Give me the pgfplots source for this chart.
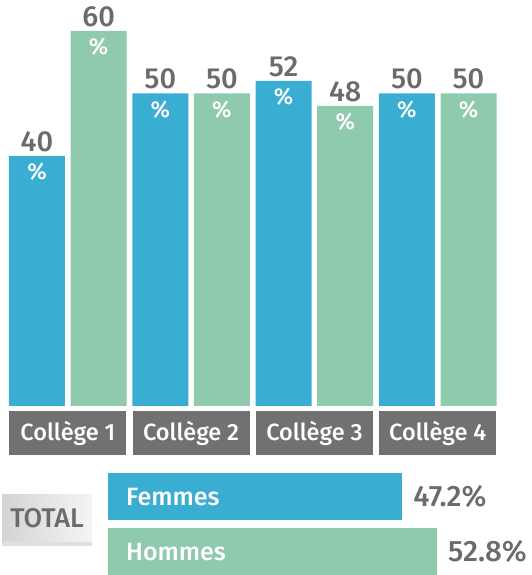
\documentclass[border=0pt]{standalone}
\usepackage{fontspec}
\setmainfont{Fira Sans}
\IfFontExistsTF{Fira Sans Medium}{\newfontfamily\med{Fira Sans Medium}}{\newcommand\med{\bfseries}}
\usepackage{pgfplots}
\pgfplotsset{compat=1.18}
\usetikzlibrary{shadows}
\definecolor{cblue}{HTML}{3AADD3}
\definecolor{cgreen}{HTML}{8FCAAC}
\definecolor{tgray}{HTML}{6B6B6B}
\definecolor{bgray}{HTML}{717173}
\begin{document}
\begin{tikzpicture}[x=1pt,y=1pt]
\useasboundingbox (0,0) rectangle (531,575);
% TOTAL badge
\node[left color=black!17, right color=black!4, minimum width=90pt, minimum height=47pt,
      inner sep=0pt, text=tgray, font=\med\fontsize{27}{29}\selectfont,
      drop shadow={shadow xshift=0pt, shadow yshift=-4pt, opacity=0.25}] at (47,56.5) {TOTAL};
\begin{axis}[
  at={(0pt,169pt)}, anchor=south west, scale only axis,
  width=505.5pt, height=406.25pt,
  xmin=-0.6, xmax=7.6, ymin=0, ymax=65,
  /pgf/number format/assume math mode=true,
  axis line style={draw=none}, major tick length=0pt,
  ytick=\empty,
  xtick={0.5,2.5,4.5,6.5},
  xticklabels={Collège 1,Collège 2,Collège 3,Collège 4},
  xticklabel style={fill=bgray, text=white, minimum width=117pt, minimum height=44pt,
     inner sep=0pt, anchor=north, yshift=-5pt, font=\med\fontsize{23.5}{25}\selectfont},
  ybar, bar width=56pt,
  clip=false,
]
\addplot[fill=cblue, draw=none, bar shift=0pt, point meta=y,
  nodes near coords={\pgfmathprintnumber{\pgfplotspointmeta}},
  every node near coord/.style={anchor=south, inner sep=0pt, yshift=4pt, text=tgray,
     font=\med\fontsize{29}{31}\selectfont}]
  coordinates {(0,40) (2,50) (4,52) (6,50)};
\addplot[fill=cgreen, draw=none, bar shift=0pt, point meta=y,
  nodes near coords={\pgfmathprintnumber{\pgfplotspointmeta}},
  every node near coord/.style={anchor=south, inner sep=0pt, yshift=4pt, text=tgray,
     font=\med\fontsize{29}{31}\selectfont}]
  coordinates {(1,60) (3,50) (5,48) (7,50)};
\addplot[draw=none, fill=none, bar shift=0pt, forget plot, point meta=y,
  nodes near coords={\%},
  every node near coord/.style={anchor=north, inner sep=0pt, yshift=-7pt, text=white,
     font=\med\fontsize{23}{25}\selectfont}]
  coordinates {(0,40) (1,60) (2,50) (3,50) (4,52) (5,48) (6,50) (7,50)};
\end{axis}
\begin{axis}[
  at={(108pt,0pt)}, anchor=south west, scale only axis,
  width=405pt, height=101.2pt,
  xmin=0, xmax=65, ymin=-0.42, ymax=1.42,
  /pgf/number format/assume math mode=true,
  xbar, bar width=47pt,
  axis line style={draw=none}, major tick length=0pt,
  xtick=\empty, ytick={0,1}, yticklabels={Hommes,Femmes},
  yticklabel style={anchor=west, inner sep=0pt, xshift=18pt, text=white,
     font=\med\fontsize{25}{27}\selectfont},
  clip=false, axis on top,
]
\addplot[fill=cblue, draw=none, bar shift=0pt, point meta=x,
  nodes near coords={\pgfmathprintnumber[fixed,precision=1,fixed zerofill]{\pgfplotspointmeta}\%},
  every node near coord/.style={anchor=west, inner sep=0pt, xshift=11pt, text=tgray,
     font=\med\fontsize{29.5}{31}\selectfont}]
  coordinates {(47.2,1)};
\addplot[fill=cgreen, draw=none, bar shift=0pt, point meta=x,
  nodes near coords={\pgfmathprintnumber[fixed,precision=1,fixed zerofill]{\pgfplotspointmeta}\%},
  every node near coord/.style={anchor=west, inner sep=0pt, xshift=11pt, text=tgray,
     font=\med\fontsize{29.5}{31}\selectfont}]
  coordinates {(52.8,0)};
\end{axis}
\end{tikzpicture}
\end{document}
